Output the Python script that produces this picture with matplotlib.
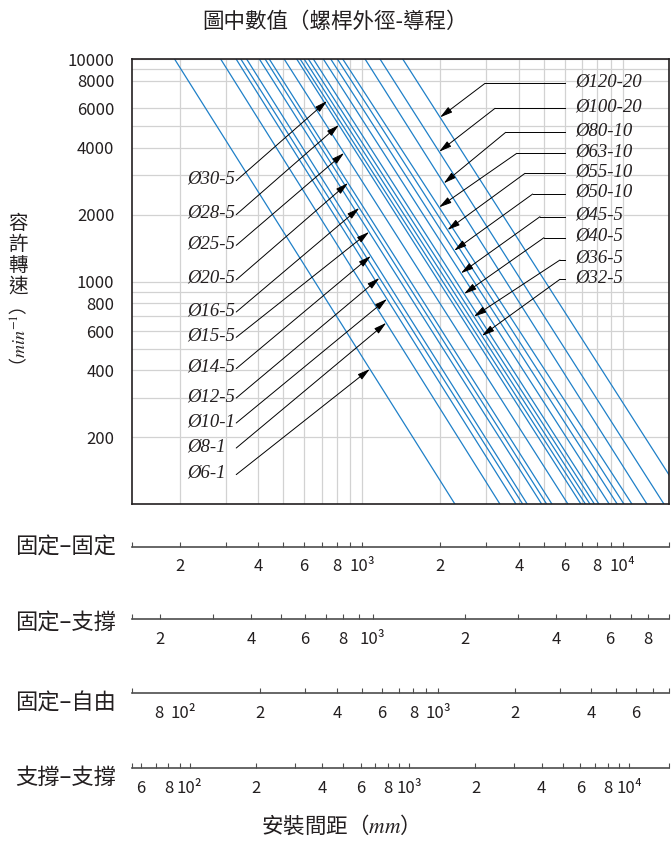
import numpy as np
import matplotlib
matplotlib.use('Agg')
import matplotlib.pyplot as plt
from matplotlib.ticker import FixedLocator, NullFormatter

plt.rcParams['font.family'] = ['Noto Sans CJK TC', 'DejaVu Sans']
plt.rcParams['mathtext.fontset'] = 'stix'

INK = '#231f20'
BLUE = '#1f80c8'
SERIF = dict(family='Liberation Serif', style='italic')

# screw size (outer diameter - lead), left to right in the chart
sizes = ['Ø6-1', 'Ø8-1', 'Ø10-1', 'Ø12-5', 'Ø14-5', 'Ø15-5', 'Ø16-5',
         'Ø20-5', 'Ø25-5', 'Ø28-5', 'Ø30-5', 'Ø32-5', 'Ø36-5', 'Ø40-5',
         'Ø45-5', 'Ø50-10', 'Ø55-10', 'Ø63-10', 'Ø80-10', 'Ø100-20', 'Ø120-20']
# mounting distance (mm, fixed-fixed scale) where each line is at 10000 and at 100 min-1
dist_at_10000 = [191, 287, 329, 343, 361, 404, 425, 441, 503, 562, 579,
                 600, 623, 651, 711, 759, 805, 844, 1028, 1173, 1434]
dist_at_100 = [2276, 3388, 3903, 4141, 4312, 4898, 5119, 5364, 6178, 6931, 7211,
               7504, 7807, 8124, 8897, 9550, 10134, 10877, 12417, 14430, 17805]

speed_ticks = [200, 400, 600, 800, 1000, 2000, 4000, 6000, 8000, 10000]
speed_grid = [300, 500, 700, 900, 3000, 5000, 9000]
dist_grid = [200, 300, 400, 500, 600, 700, 800, 900,
             1000, 2000, 3000, 4000, 5000, 6000, 7000, 8000, 9000, 10000]

# labels on the left: size, label height (axes fraction), speed where the arrow hits
left_labels = [('Ø30-5', 0.7298, 6477), ('Ø28-5', 0.6535, 5053), ('Ø25-5', 0.5845, 3784),
               ('Ø20-5', 0.5071, 2774), ('Ø16-5', 0.4348, 2143), ('Ø15-5', 0.3779, 1672),
               ('Ø14-5', 0.3077, 1304), ('Ø12-5', 0.2416, 1039), ('Ø10-1', 0.1855, 836),
               ('Ø8-1', 0.1293, 653), ('Ø6-1', 0.0696, 405)]
# labels on the right: size, elbow x, leader height, speed where the arrow hits
right_labels = [('Ø120-20', 0.6576, 0.9454, 5472), ('Ø100-20', 0.6762, 0.8893, 3835),
                ('Ø80-10', 0.6961, 0.8354, 2766), ('Ø63-10', 0.7166, 0.7882, 2158),
                ('Ø55-10', 0.7320, 0.7433, 1707), ('Ø50-10', 0.7463, 0.6968, 1378),
                ('Ø45-5', 0.7599, 0.6459, 1091), ('Ø40-5', 0.7673, 0.5987, 881),
                ('Ø36-5', 0.7971, 0.5486, 697), ('Ø32-5', 0.7971, 0.5053, 571)]


def dist_on_line(name, rpm):
    i = sizes.index(name)
    a, b = np.log10(dist_at_10000[i]), np.log10(dist_at_100[i])
    t = (4 - np.log10(rpm)) / 2
    return 10 ** (a + t * (b - a))


fig = plt.figure(figsize=(6.71, 8.41), dpi=100)
L, W = 0.1963, 0.8007
ax = fig.add_axes([L, 0.4004, W, 0.5294])
ax.set_xscale('log')
ax.set_yscale('log')
ax.set_xlim(130.8, 15070)
ax.set_ylim(100, 10000)

for i in range(len(sizes)):
    ax.plot([dist_at_10000[i], dist_at_100[i]], [10000, 100], color=BLUE, lw=0.9, zorder=3)

ax.xaxis.set_major_locator(FixedLocator(dist_grid))
ax.xaxis.set_major_formatter(NullFormatter())
ax.xaxis.set_minor_locator(FixedLocator([]))
ax.yaxis.set_major_locator(FixedLocator(speed_ticks))
ax.set_yticklabels([str(v) for v in speed_ticks])
ax.yaxis.set_minor_locator(FixedLocator(speed_grid))
ax.yaxis.set_minor_formatter(NullFormatter())
ax.tick_params(which='both', length=0, labelsize=12, labelcolor=INK, pad=12.5)
ax.grid(True, which='both', color='#d2d2d2', lw=0.9, zorder=0)
for s in ax.spines.values():
    s.set_color(INK)
    s.set_linewidth(1.2)
    s.set_zorder(5)

arrow = dict(arrowstyle='-|>,head_length=0.75,head_width=0.2', color='black',
             lw=0.7, mutation_scale=10, shrinkA=0, shrinkB=0)

for name, yf, rpm in left_labels:
    ax.text(0.1040, yf, name, transform=ax.transAxes, ha='left', va='center',
            fontsize=13.5, color=INK, zorder=6, **SERIF)
    ax.annotate('', xy=(dist_on_line(name, rpm), rpm), xycoords='data',
                xytext=(0.1945, yf - 0.003), textcoords='axes fraction',
                arrowprops=arrow, zorder=6)

for name, bx, yf, rpm in right_labels:
    ax.plot([bx, 0.8064], [yf, yf], color='black', lw=0.7, transform=ax.transAxes, zorder=6)
    ax.text(0.8250, yf + 0.004, name, transform=ax.transAxes, ha='left', va='center',
            fontsize=13.5, color=INK, zorder=6, **SERIF)
    ax.annotate('', xy=(dist_on_line(name, rpm), rpm), xycoords='data',
                xytext=(bx, yf), textcoords='axes fraction',
                arrowprops=arrow, zorder=6)

fig.text(0.4993, 0.9738, '圖中數值（螺桿外徑-導程）', ha='center', va='center',
         fontsize=15.5, color=INK, fontweight='light')
fig.text(0.027, 0.697, '容\n許\n轉\n速', ha='center', va='center',
         fontsize=14, color=INK, linespacing=1.0, fontweight='light')
fig.text(0.027, 0.594, '（$\\mathit{min}^{-1}$）', ha='center', va='center',
         rotation=90, fontsize=13, color=INK, fontweight='light')
fig.text(0.4993, 0.018, '安裝間距（$\\mathit{mm}$）', ha='center', va='center',
         fontsize=15.5, color=INK, fontweight='light')

# mounting-distance scales for the four bearing arrangements
rows = [
    ('固定–固定', 0.3500, 0.3490, (130.8, 15070),
     [200, 400, 600, 800, 1000, 2000, 4000, 6000, 8000, 10000],
     ['2', '4', '6', '8', '10³', '2', '4', '6', '8', '10⁴'],
     [300, 500, 700, 900, 3000, 5000, 7000, 9000], []),
    ('固定–支撐', 0.2636, 0.2592, (162, 9356),
     [200, 400, 600, 800, 1000, 2000, 4000, 6000, 8000],
     ['2', '4', '6', '8', '10³', '2', '4', '6', '8'],
     [300, 500, 700, 900, 3000, 5000, 7000], []),
    ('固定–自由', 0.1756, 0.1641, (62.5, 8077),
     [80, 100, 200, 400, 600, 800, 1000, 2000, 4000, 6000],
     ['8', '10²', '2', '4', '6', '8', '10³', '2', '4', '6'],
     [300, 500, 700, 900, 3000, 5000, 7000], [0, 1]),
    ('支撐–支撐', 0.0864, 0.0761, (54.4, 15210),
     [60, 80, 100, 200, 400, 600, 800, 1000, 2000, 4000, 6000, 8000, 10000],
     ['6', '8', '10²', '2', '4', '6', '8', '10³', '2', '4', '6', '8', '10⁴'],
     [70, 90, 300, 500, 700, 900, 3000, 5000, 7000, 9000], []),
]

for name, y, name_y, lims, major, labels, minor, hidden in rows:
    sa = fig.add_axes([L, y, W, 0.0005])
    sa.set_facecolor('none')
    sa.set_xscale('log')
    sa.set_xlim(*lims)
    sa.set_yticks([])
    for s in ['top', 'left', 'right']:
        sa.spines[s].set_visible(False)
    sa.spines['bottom'].set_color('#4d4d4d')
    sa.spines['bottom'].set_linewidth(1.2)
    sa.xaxis.set_major_locator(FixedLocator(major))
    sa.set_xticklabels(labels)
    sa.xaxis.set_minor_locator(FixedLocator(minor + list(lims)))
    sa.xaxis.set_minor_formatter(NullFormatter())
    sa.tick_params(which='both', direction='in', length=3.5, width=0.8,
                   color='#4d4d4d', labelsize=12, labelcolor=INK, pad=8.5)
    ticks = sa.xaxis.get_major_ticks()
    for k in hidden:
        ticks[k].tick1line.set_visible(False)
    fig.text(0.0224, name_y, name, ha='left', va='center', fontsize=16, color=INK,
             fontweight='light')

fig.savefig('out.png', dpi=100)
